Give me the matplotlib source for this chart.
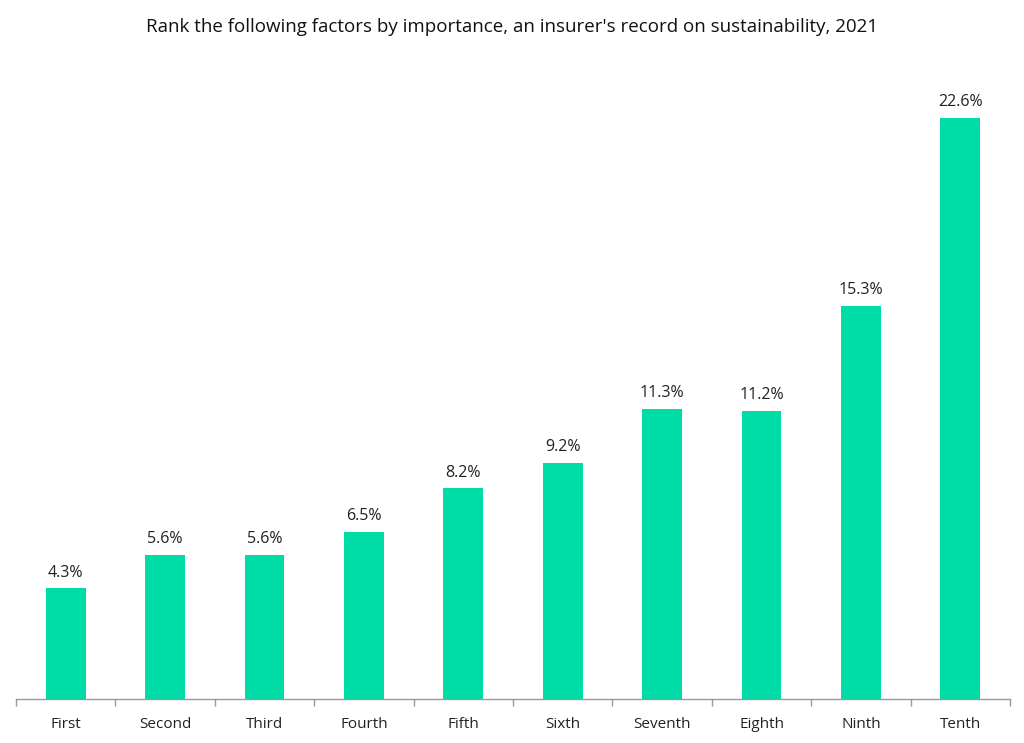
import matplotlib
matplotlib.use("Agg")
import matplotlib.pyplot as plt
import numpy as np

categories = ["First", "Second", "Third", "Fourth", "Fifth", "Sixth", "Seventh", "Eighth", "Ninth", "Tenth"]
values = [4.3, 5.6, 5.6, 6.5, 8.2, 9.2, 11.3, 11.2, 15.3, 22.6]
title = "Rank the following factors by importance, an insurer's record on sustainability, 2021"

plt.rcParams['font.family'] = ['Open Sans', 'DejaVu Sans']

fig = plt.figure(figsize=(10.24, 7.43), dpi=100)
ax = fig.add_axes([16/1024, 44/743, (1010-16)/1024, (699-56.5)/743])

x = np.arange(len(categories))
bars = ax.bar(x, values, width=0.4, color="#00DCA5")
for xi, v in zip(x, values):
    ax.text(xi, v + 0.3, f"{v:.1f}%", ha="center", va="bottom", fontsize=11.5, color="#222222")

ax.set_xlim(-0.5, len(categories) - 0.5)
ax.set_ylim(0, 25)
ax.set_xticks(x)
ax.set_xticklabels(categories, fontsize=11, color="#222222")
ax.tick_params(axis="x", which="major", length=0, pad=13)
ax.set_xticks(np.arange(-0.5, len(categories)), minor=True)
ax.tick_params(axis="x", which="minor", length=5, color="#999999", width=1)
ax.set_yticks([])
for s in ["top", "right", "left"]:
    ax.spines[s].set_visible(False)
ax.spines["bottom"].set_color("#999999")
ax.spines["bottom"].set_linewidth(1)

fig.text(0.5, 1 - 27/743, title, ha="center", va="center", fontsize=13.5, color="#111111")

fig.savefig("out.png", dpi=100)
